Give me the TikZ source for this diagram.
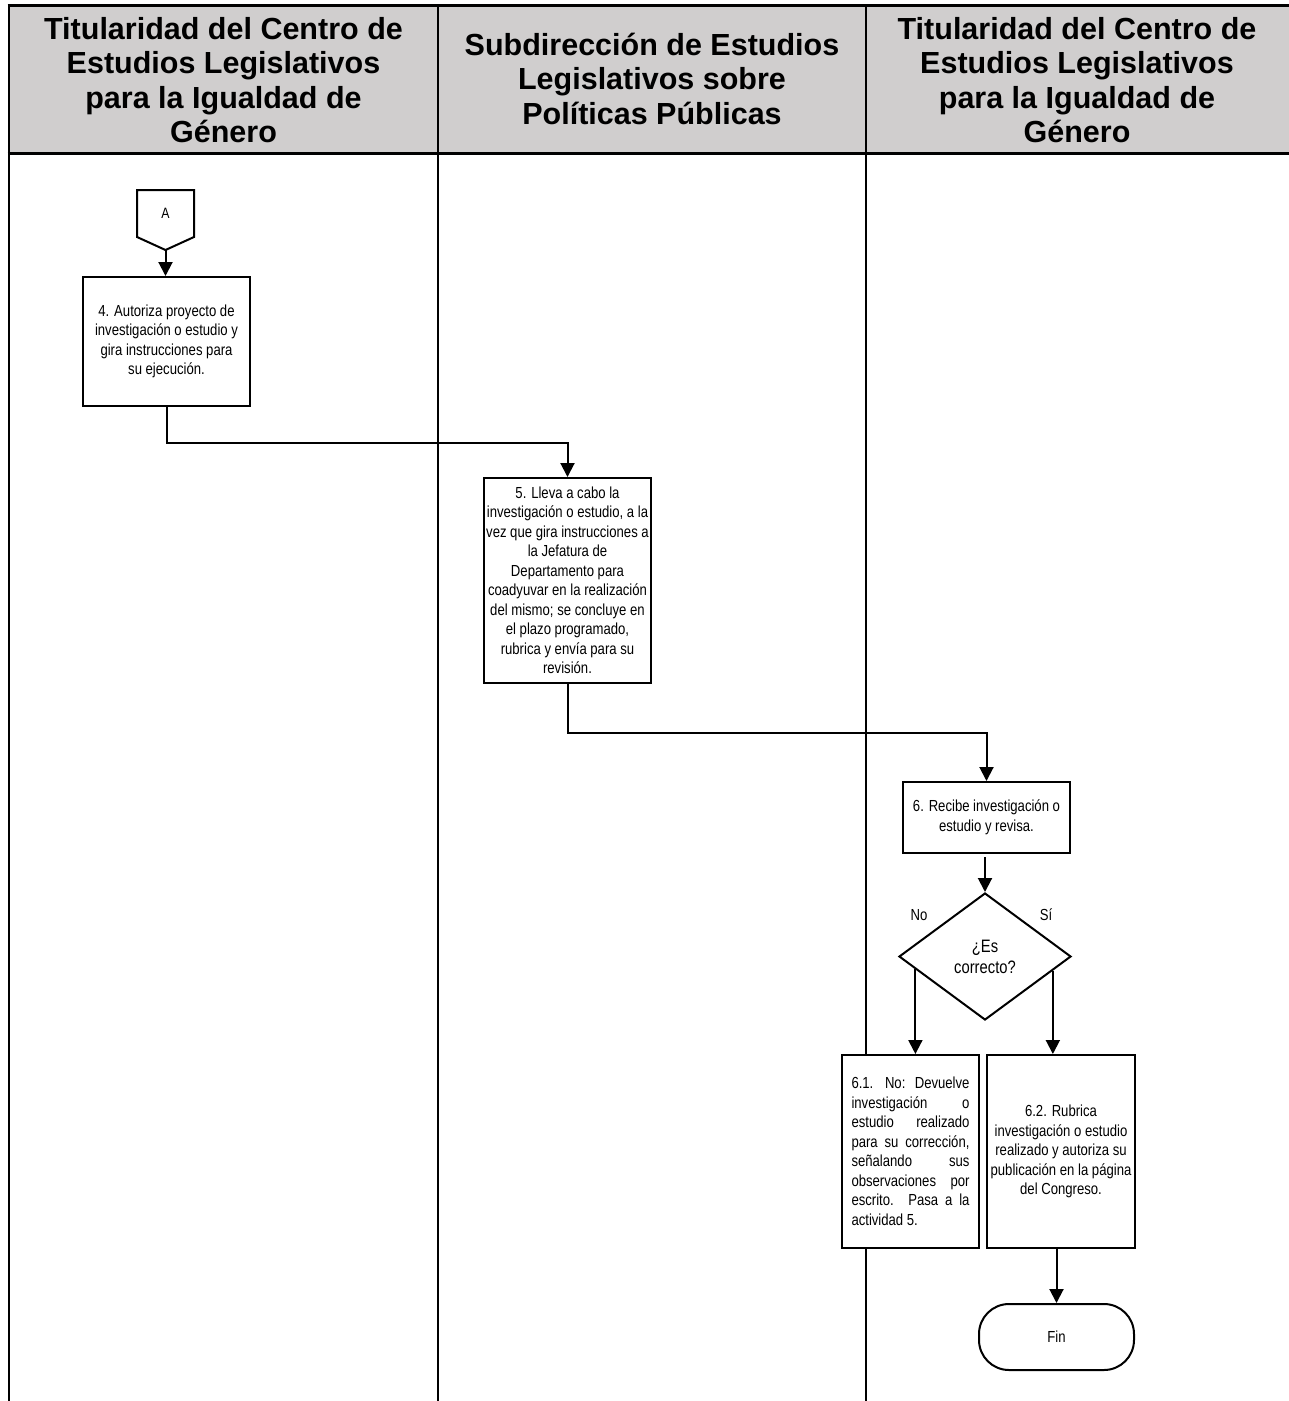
\documentclass[tikz,border=0pt]{standalone}
\usepackage{fontspec}
\setmainfont{Liberation Sans}
\newfontfamily\nar[FakeStretch=0.82]{Liberation Sans}
\usetikzlibrary{shapes.geometric,arrows.meta,calc}
\definecolor{hdrgray}{HTML}{D0CECE}
\begin{document}
\begin{tikzpicture}[x=1pt,y=-1pt,
  lane/.style={line width=2pt},
  hdrline/.style={line width=3pt},
  hdrtext/.style={font=\bfseries\fontsize{30.5}{34.5}\selectfont, align=center},
  box/.style={draw, line width=2pt, fill=white, rectangle, inner sep=2pt,
    font=\nar\fontsize{16}{19.5}\selectfont},
  cbox/.style={box, align=center},
  arr/.style={line width=2pt, -{Triangle[width=14pt,length=14pt]}},
  lbl/.style={font=\nar\fontsize{16}{19.5}\selectfont}
]
\useasboundingbox (0,0) rectangle (1289,1401);
% header band
\fill[hdrgray] (9,5) rectangle (1289,153);
% lanes
\draw[lane] (9,5) -- (9,1401);
\draw[lane] (438,5) -- (438,1401);
\draw[lane] (866,5) -- (866,1401);
\draw[hdrline] (7.5,5) -- (1289,5);
\draw[hdrline] (7.5,153) -- (1289,153);
% header texts
\node[hdrtext] (h1) at (223.5,80) {Titularidad del Centro de\\Estudios Legislativos\\para la Igualdad de\\Género};
\node[hdrtext] (h2) at (652,78.5) {Subdirección de Estudios\\Legislativos sobre\\Políticas Públicas};
\node[hdrtext] (h3) at (1077,80) {Titularidad del Centro de\\Estudios Legislativos\\para la Igualdad de\\Género};
% connector A
\draw[line width=2pt, fill=white] (137,190) -- (194,190) -- (194,237) -- (165.5,250) coordinate (Atip) -- (137,237) -- cycle;
\node[lbl, font=\nar\fontsize{15}{18}\selectfont] (A) at (165.5,213) {A};
% boxes
\node[cbox, minimum width=167, minimum height=129] (b4) at (166.5,341.5)
  {4. Autoriza proyecto de\\investigación o estudio y\\gira instrucciones para\\su ejecución.};
\node[cbox, minimum width=167, minimum height=205] (b5) at (567.5,580.5)
  {5. Lleva a cabo la\\investigación o estudio, a la\\vez que gira instrucciones a\\la Jefatura de\\Departamento para\\coadyuvar en la realización\\del mismo; se concluye en\\el plazo programado,\\rubrica y envía para su\\revisión.};
\node[box, minimum width=167, minimum height=71] (b6) at (986.5,817.5)
  {\raisebox{8pt}{\parbox{160pt}{\centering 6. Recibe investigación o\\estudio y revisa.}}};
\node[diamond, draw, line width=2pt, fill=white, minimum width=172, minimum height=127,
  inner sep=0pt, aspect=1.35, font=\nar\fontsize{18}{21}\selectfont, align=center]
  (dia) at (985,956.5) {¿Es\\correcto?};
\node[lbl] (no) at (919,915) {No};
\node[lbl] (si) at (1046,915) {Sí};
\node[box, minimum width=137, minimum height=193] (b61) at (910.5,1151.5)
  {\raisebox{-8pt}{\parbox{118pt}{%
   \makebox[118pt][s]{6.1. No: Devuelve}\\
   \makebox[118pt][s]{investigación o}\\
   \makebox[118pt][s]{estudio realizado}\\
   \makebox[118pt][s]{para su corrección,}\\
   \makebox[118pt][s]{señalando sus}\\
   \makebox[118pt][s]{observaciones por}\\
   \makebox[118pt][s]{escrito. Pasa a la}\\
   \makebox[118pt][l]{actividad 5.}}}};
\node[box, minimum width=148, minimum height=193] (b62) at (1061,1151.5)
  {\raisebox{-4pt}{\parbox{144pt}{\centering 6.2. Rubrica\\investigación o estudio\\realizado y autoriza su\\publicación en la página\\del Congreso.}}};
\node[draw, line width=2pt, fill=white, rounded corners=30pt, minimum width=155,
  minimum height=66, font=\nar\fontsize{16}{19.5}\selectfont] (fin) at (1056.5,1337) {Fin};
% connectors
\draw[arr] (Atip) -- (Atip |- b4.north);
\draw[arr] (b4.south) -- ++(0,36) -| (b5.north);
\draw[arr] (b5.south) -- ++(0,49) -| (b6.north);
\draw[arr] ([yshift=-3pt]dia.north |- b6.south) -- (dia.north);
\draw[arr] ($(dia.west)!0.2!(dia.south)$) coordinate (ns) -- (ns |- b61.north);
\draw[arr] ($(dia.east)!0.22!(dia.south)$) coordinate (ss) -- (ss |- b62.north);
\draw[arr] (fin.north |- b62.south) -- (fin.north);
\end{tikzpicture}
\end{document}
